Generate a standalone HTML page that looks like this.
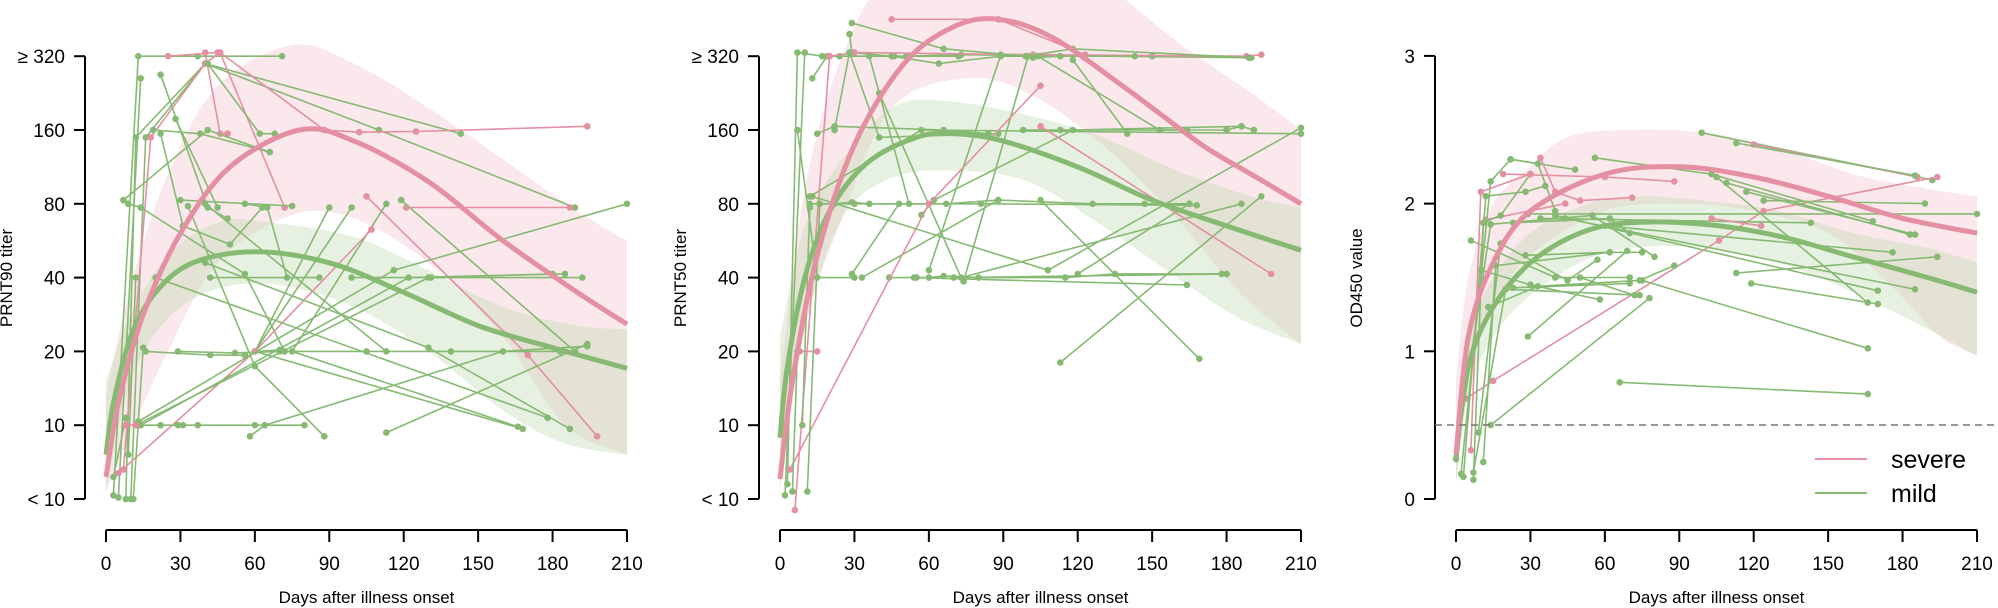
<!DOCTYPE html>
<html><head><meta charset="utf-8"><style>
html,body{margin:0;padding:0;background:#fff}
svg{display:block}
text{font-family:"Liberation Sans",Arial,sans-serif;fill:#000}
</style></head><body>
<svg id="s" width="1998" height="608" xmlns="http://www.w3.org/2000/svg"></svg>
<script>
const S=document.getElementById('s');
let out='';
const PK='#E48FA2',GR='#86BA72';
function cr(pts){ // catmull-rom path
  let d='M'+pts[0][0].toFixed(1)+','+pts[0][1].toFixed(1);
  for(let i=0;i<pts.length-1;i++){
    const p0=pts[Math.max(0,i-1)],p1=pts[i],p2=pts[i+1],p3=pts[Math.min(pts.length-1,i+2)];
    const c1=[p1[0]+(p2[0]-p0[0])/6,p1[1]+(p2[1]-p0[1])/6];
    const c2=[p2[0]-(p3[0]-p1[0])/6,p2[1]-(p3[1]-p1[1])/6];
    d+='C'+c1.map(v=>v.toFixed(1))+' '+c2.map(v=>v.toFixed(1))+' '+p2.map(v=>v.toFixed(1));
  }
  return d;
}
function panel(P){
  const X=d=>P.x0+d*521/210, Y=v=>499-v*P.k;
  const m=a=>a.map(p=>[X(p[0]),Y(p[1])]);
  // bands
  const band=(up,lo,fill,op)=>{
    let u=m(up),l=m(lo).reverse();
    let d=cr(u)+'L'+l[0][0]+','+l[0][1]+cr(l).slice(1).replace(/^[^C]*/,'')+'Z';
    out+=`<path d="${d}" fill="${fill}" fill-opacity="${op}"/>`;
  };
  band(P.pu,P.pl,'#F0B8C5',0.32);
  band(P.gu,P.gl,'#B9D6A8',0.35);
  // segments
  P.lines.forEach(L=>{
    const c=L[0]=='p'?PK:GR;
    const pts=m(L[1]);
    out+=`<polyline points="${pts.map(p=>p.map(v=>v.toFixed(1)).join(',')).join(' ')}" fill="none" stroke="${c}" stroke-width="1.6"/>`;
    pts.forEach(p=>out+=`<circle cx="${p[0].toFixed(1)}" cy="${p[1].toFixed(1)}" r="3.3" fill="${c}"/>`);
  });
  // curves
  out+=`<path d="${cr(m(P.gc))}" fill="none" stroke="${GR}" stroke-width="5"/>`;
  out+=`<path d="${cr(m(P.pc))}" fill="none" stroke="${PK}" stroke-width="5"/>`;
  // axes
  const ax=P.x0-21;
  out+=`<line x1="${ax}" y1="${Y(P.ymax)}" x2="${ax}" y2="499" stroke="#000" stroke-width="2"/>`;
  P.ticks.forEach((t,i)=>{const y=Y(t[0]);
    out+=`<line x1="${ax-11}" y1="${y}" x2="${ax}" y2="${y}" stroke="#000" stroke-width="2"/>`;
    out+=`<text x="${ax-20}" y="${y+7}" font-size="19" text-anchor="end">${t[1]}</text>`;});
  out+=`<line x1="${X(0)}" y1="530" x2="${X(210)}" y2="530" stroke="#000" stroke-width="2"/>`;
  for(let d=0;d<=210;d+=30){out+=`<line x1="${X(d)}" y1="530" x2="${X(d)}" y2="542" stroke="#000" stroke-width="2"/><text x="${X(d)}" y="570" font-size="19" text-anchor="middle">${d}</text>`;}
  out+=`<text x="${X(105)}" y="603" font-size="17" text-anchor="middle">Days after illness onset</text>`;
  out+=`<text transform="translate(${P.x0-94},278) rotate(-90)" font-size="17" text-anchor="middle">${P.yt}</text>`;
}
const T1=[[0,'&lt; 10'],[1,'10'],[2,'20'],[3,'40'],[4,'80'],[5,'160'],[6,'≥ 320']];
panel({x0:106,k:73.8,ymax:6,yt:'PRNT90 titer',ticks:T1,
 pc:[[0,0.3],[5,1.3],[15,2.5],[30,3.6],[50,4.5],[78,5.0],[100,4.85],[130,4.3],[160,3.5],[190,2.8],[210,2.37]],
 gc:[[0,0.6],[3,1.3],[10,2.2],[20,2.8],[35,3.2],[60,3.35],[90,3.2],[120,2.8],[150,2.35],[180,2.05],[210,1.77]],
 pu:[[0,1.4],[10,2.9],[25,4.4],[45,5.6],[75,6.15],[100,5.9],[130,5.3],[160,4.6],[190,3.9],[210,3.5]],
 pl:[[0,0.1],[10,0.9],[25,2.0],[45,3.2],[75,3.85],[100,3.8],[130,3.2],[160,2.2],[185,1.0],[210,0.6]],
 gu:[[0,1.6],[10,2.5],[25,3.3],[45,3.75],[65,3.75],[100,3.55],[130,3.1],[160,2.6],[190,2.35],[210,2.3]],
 gl:[[0,0.1],[10,1.6],[25,2.45],[45,2.85],[70,2.9],[100,2.6],[130,2.0],[160,1.2],[185,0.75],[210,0.6]],
 lines:[
 ['g',[[3,0.05],[13,6],[37,6],[71,6]]],['p',[[25,6],[45,6.05]]],
 ['g',[[5,0.02],[14,5.7]]],['g',[[8,0],[12,4.9],[40,5.9],[143,4.95]]],
 ['g',[[10,0],[16,4.9],[40,5.9],[110,5.0],[189,3.95]]],['p',[[7,0.4],[18,4.9],[40,5.9],[46,6.05],[72,3.95]]],
 ['p',[[40,6.05],[46,4.95],[49,4.95]]],['g',[[41,5.9],[62,4.95],[68,4.95]]],
 ['p',[[46,6.05],[88,5.0],[102,4.97],[125,4.98],[194,5.05]]],['g',[[22,5.75],[41,3.95],[49,3.8]]],
 ['g',[[7,4.05],[41,5.0],[66,4.7]]],['g',[[22,4.95],[31,3.7],[50,3.45],[63,3.95]]],['g',[[28,5.15],[45,3.95]]],
 ['g',[[19,5.0],[38,4.95],[66,4.7]]],['g',[[9,4.0],[14,3.95],[56,3.05],[72,2.0]]],['g',[[56,4.0],[65,3.95],[73,3.0]]],
 ['g',[[30,4.05],[75,3.97]]],['g',[[40,4.0],[113,2.0]]],['g',[[33,3.97],[60,1.8],[88,0.85]]],
 ['g',[[90,3.95],[60,2.0],[70,2.02]]],['g',[[99,3.95],[60,2.0],[168,0.95]]],['p',[[105,4.1],[170,1.95],[198,0.85]]],
 ['p',[[121,3.95],[187,3.95]]],['g',[[119,4.05],[189,2.0]]],['g',[[113,4.0],[75,2.0],[166,0.98]]],
 ['p',[[5,0.35],[60,2.0],[107,3.65]]],['g',[[13,1.0],[22,1.0],[29,1.0],[31,1.0],[37,1.0],[60,1.0],[80,1.0]]],
 ['g',[[29,2.0],[52,1.98],[70,2.0],[105,2.0],[139,2.0],[183,2.0]]],['g',[[42,3.0],[86,3.0]]],['g',[[99,3.0],[131,3.0],[192,3.0]]],
 ['g',[[58,0.85],[64,1.0],[160,2.0],[194,2.07]]],['g',[[113,0.9],[194,2.1]]],['g',[[13,1.05],[116,3.1],[210,4.0]]],
 ['g',[[12,1.0],[130,3.0],[180,3.05]]],['g',[[14,1.0],[122,3.0],[185,3.05]]],['g',[[20,3.0],[178,1.1]]],
 ['g',[[16,2.0],[42,1.95],[56,1.95]]],['g',[[40,3.2],[130,2.05],[187,0.95]]],['g',[[11,0],[15,2.05]]],['g',[[9,0.6],[12,3.0]]],
 ['g',[[3,0.3],[8,1.1]]],['p',[[8,1.0],[12,1.0]]]
 ]});
panel({x0:780,k:73.8,ymax:6,yt:'PRNT50 titer',ticks:T1,
 pc:[[0,0.27],[5,1.6],[15,3.3],[30,4.8],[50,5.9],[70,6.4],[88,6.5],[110,6.25],[140,5.55],[170,4.8],[190,4.4],[210,4.0]],
 gc:[[0,0.83],[3,1.8],[10,3.0],[20,3.9],[35,4.55],[55,4.9],[70,4.95],[90,4.85],[120,4.5],[150,4.05],[180,3.7],[210,3.37]],
 pu:[[0,1.6],[10,4.2],[25,6.0],[45,7.2],[75,7.8],[100,7.6],[130,7.0],[160,6.2],[190,5.5],[210,5.0]],
 pl:[[0,0.1],[10,2.3],[25,3.8],[45,5.3],[75,5.7],[100,5.5],[130,4.8],[160,3.8],[185,2.8],[210,2.1]],
 gu:[[0,2.2],[10,3.7],[25,4.6],[45,5.3],[65,5.4],[100,5.2],[130,4.9],[160,4.45],[190,4.1],[210,3.95]],
 gl:[[0,0.2],[10,2.3],[25,3.8],[45,4.35],[70,4.45],[100,4.3],[130,3.7],[160,3.0],[185,2.45],[210,2.1]],
 lines:[
 ['g',[[3,0.2],[7,6.05],[17,6.0],[24,6.0],[46,6.0],[72,6.0]]],['g',[[13,5.7],[19,6.0],[51,6.0],[73,6.02],[190,5.98]]],
 ['g',[[28,6.3],[29,6.05],[45,6.0],[64,5.9],[89,6.0],[150,6.0]]],['p',[[45,6.5],[88,6.5],[123,6.02]]],
 ['p',[[20,6.0],[30,6.05],[102,6.02],[188,6.0],[194,6.02]]],['g',[[29,6.45],[66,6.1],[99,6.0],[118,6.1],[189,5.98]]],
 ['g',[[102,5.98],[113,6.0],[143,6.0]]],['g',[[7,5.0],[15,3.0],[30,3.0]]],['g',[[15,4.95],[22,5.05],[66,5.0],[84,4.95]]],
 ['g',[[22,5.0],[28,6.05],[40,4.9],[88,4.95]]],['g',[[98,5.0],[113,5.0],[180,5.0],[186,5.05],[191,5.0]]],
 ['g',[[118,5.95],[140,4.95]]],['g',[[104,6.0],[153,5.0],[164,5.0]]],['g',[[12,4.0],[22,4.0],[29,4.02],[36,4.0],[67,4.0],[88,4.05],[126,4.0],[147,4.0],[165,4.0]]],
 ['g',[[57,3.85],[62,4.05],[118,5.0],[186,5.05]]],['g',[[16,4.0],[30,4.0],[81,4.0],[168,3.98]]],['g',[[105,4.05],[169,1.9]]],
 ['g',[[113,1.85],[194,4.1]]],['g',[[29,3.05],[48,4.0]]],['g',[[33,3.0],[88,4.05]]],['g',[[44,3.0],[55,3.0],[60,3.0],[66,3.02],[80,3.0],[115,3.0],[135,3.05],[178,3.05]]],
 ['g',[[54,3.0],[164,2.9]]],['g',[[120,3.05],[165,4.0]]],['g',[[70,3.0],[180,3.05]]],['g',[[74,2.95],[100,6.0]]],
 ['g',[[60,3.1],[89,6.02]]],['g',[[40,5.5],[73,3.0],[186,4.0]]],['g',[[36,6.0],[52,4.0]]],['g',[[12,4.1],[57,5.0],[210,4.95]]],
 ['p',[[4,0.4],[60,4.0],[105,5.6]]],['p',[[105,5.05],[198,3.05]]],['p',[[8,2.0],[15,2.0]]],['p',[[6,-0.15],[20,6.0]]],
 ['g',[[13,4.1],[108,3.1],[210,5.03]]],['g',[[9,1.0],[12,3.95]]],['g',[[2,0.05],[10,6.05]]],['g',[[5,0.1],[7,2.0]]],['g',[[11,0.1],[16,4.0]]]
 ]});
panel({x0:1456,k:147.7,ymax:3,yt:'OD450 value',ticks:[[0,'0'],[1,'1'],[2,'2'],[3,'3']],
 pc:[[0,0.3],[5,1.1],[15,1.6],[30,1.95],[60,2.2],[90,2.25],[120,2.18],[150,2.05],[180,1.9],[210,1.8]],
 gc:[[0,0.28],[5,0.9],[15,1.3],[30,1.6],[50,1.8],[70,1.87],[100,1.86],[130,1.78],[160,1.64],[190,1.5],[210,1.4]],
 pu:[[0,0.8],[5,1.5],[15,2.0],[30,2.25],[45,2.45],[70,2.5],[100,2.48],[130,2.38],[160,2.2],[190,2.1],[210,2.05]],
 pl:[[0,0.1],[5,0.8],[15,1.3],[30,1.65],[60,1.95],[90,2.0],[120,1.95],[150,1.8],[175,1.45],[195,1.1],[210,0.97]],
 gu:[[0,0.5],[5,1.1],[15,1.5],[30,1.8],[50,1.98],[70,2.05],[100,2.02],[130,1.95],[160,1.8],[190,1.7],[210,1.6]],
 gl:[[0,0.1],[5,0.7],[15,1.1],[30,1.38],[50,1.6],[70,1.7],[100,1.7],[130,1.6],[160,1.4],[190,1.15],[210,0.97]],
 lines:[
 ['g',[[99,2.48],[192,2.16]]],['p',[[120,2.4],[186,2.18]]],['g',[[113,2.41],[185,2.19]]],['p',[[19,2.2],[60,2.18],[88,2.15]]],
 ['g',[[66,0.79],[166,0.71]]],['g',[[29,1.1],[69,1.68]]],['g',[[14,0.5],[78,1.36]]],['p',[[4,0.68],[15,0.8],[106,1.75],[124,1.95],[194,2.18]]],
 ['g',[[113,1.53],[194,1.64]]],['g',[[119,1.46],[170,1.32]]],['g',[[75,1.48],[166,1.02]]],['g',[[22,2.3],[48,2.23]]],
 ['g',[[56,2.31],[103,2.2],[168,1.88]]],['g',[[105,2.18],[166,1.33]]],['g',[[109,2.14],[183,1.79]]],['g',[[117,2.08],[185,1.79]]],
 ['g',[[124,2.02],[189,2.0]]],['g',[[29,1.93],[210,1.93]]],['g',[[40,1.92],[170,1.41]]],['g',[[44,1.9],[185,1.42]]],
 ['g',[[60,1.85],[176,1.67]]],['g',[[34,1.9],[143,1.87]]],['g',[[6,1.75],[40,1.5],[70,1.5]]],['g',[[28,1.65],[62,1.67],[75,1.67]]],
 ['g',[[50,1.5],[72,1.38]]],['g',[[10,1.55],[30,1.45],[58,1.35]]],['g',[[23,1.43],[70,1.46]]],['p',[[34,2.31],[40,2.08],[50,2.02],[71,2.04]]],
 ['p',[[12,1.89],[44,2.0]]],['p',[[103,1.9],[123,1.85]]],['g',[[2,0.17],[14,2.15],[22,2.3],[33,2.27],[40,1.95]]],
 ['g',[[3,0.15],[12,2.05],[28,2.08],[36,2.12]]],['g',[[7,0.13],[11,1.87],[18,1.92],[30,2.2]]],['g',[[11,0.25],[16,1.58],[62,1.67]]],
 ['g',[[9,0.45],[18,1.73],[45,1.48],[57,1.62]]],['g',[[7,0.18],[20,1.42],[74,1.38]]],['g',[[13,1.3],[33,1.44],[74,1.48],[88,1.58]]],
 ['p',[[6,0.33],[10,2.08],[30,2.2]]],['g',[[0,0.27],[14,1.86],[55,1.92],[80,1.64]]],['g',[[23,1.87],[62,1.9],[70,1.8]]]
 ]});
// dashed line + legend
out+=`<line x1="1435" y1="425" x2="1998" y2="425" stroke="#777" stroke-width="1.6" stroke-dasharray="7,5"/>`;
out+=`<line x1="1815" y1="459" x2="1867" y2="459" stroke="${PK}" stroke-width="2"/><text x="1891" y="468" font-size="25">severe</text>`;
out+=`<line x1="1815" y1="493" x2="1867" y2="493" stroke="${GR}" stroke-width="2"/><text x="1891" y="502" font-size="25">mild</text>`;
S.innerHTML=out;
</script>
</body></html>
